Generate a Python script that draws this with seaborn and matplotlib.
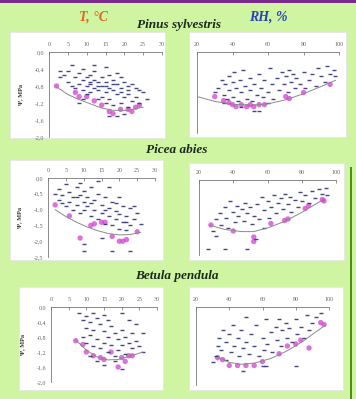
import matplotlib

matplotlib.use("Agg")
import matplotlib.pyplot as plt
import pandas as pd
import seaborn as sns
from matplotlib.patches import Rectangle

# --- data ----------------------------------------------------------------
# Pinus sylvestris, water potential vs temperature
pinus_t_x = [3, 3, 4, 5, 5, 6, 6, 7, 7, 8, 8, 9, 9, 9, 10, 10, 10, 11, 11, 11, 12, 12, 12,
             13, 13, 13, 14, 14, 14, 15, 15, 15, 15, 16, 16, 16, 17, 17, 17, 18, 18, 18,
             19, 19, 19, 20, 20, 20, 21, 21, 21, 22, 22, 23, 23, 24, 24, 25, 8, 16, 12,
             18, 26, 9, 11, 13, 15, 17, 19, 21]
pinus_t_y = [-0.45, -0.6, -0.55, -0.7, -0.45, -0.8, -0.3, -0.6, -0.85, -0.5, -0.75, -0.65,
             -0.9, -0.4, -0.6, -0.8, -1.0, -0.55, -0.75, -0.95, -0.65, -0.85, -0.45, -0.7,
             -0.9, -1.1, -0.6, -0.8, -1.05, -0.35, -0.7, -0.95, -1.2, -0.55, -0.85, -1.1,
             -0.65, -0.9, -1.25, -0.75, -1.0, -1.5, -0.6, -0.85, -1.2, -0.7, -1.05, -1.45,
             -0.8, -1.0, -1.3, -0.75, -1.15, -0.85, -1.05, -0.9, -1.2, -0.95, -1.2, -1.5,
             -0.3, -0.5, -1.1, -1.1, -0.7, -0.8, -0.8, -0.75, -0.95, -0.9]
pinus_t_min_x = [2, 7, 8, 10, 12, 14, 16, 17, 19, 21, 22, 23, 24]
pinus_t_min_y = [-0.8, -0.95, -1.05, -1.05, -1.15, -1.25, -1.4, -1.45, -1.35, -1.35, -1.4,
                 -1.3, -1.25]
pinus_t_fit_x = [2, 5, 8, 11, 14, 17, 20, 23, 25]
pinus_t_fit_y = [-0.82, -1.0, -1.12, -1.22, -1.32, -1.37, -1.38, -1.33, -1.3]

# Pinus sylvestris, water potential vs relative humidity
pinus_rh_x = [30, 32, 34, 35, 36, 37, 38, 38, 40, 40, 41, 42, 43, 44, 45, 46, 47, 48, 50, 50,
              51, 52, 54, 55, 56, 57, 58, 60, 61, 62, 63, 65, 66, 68, 69, 70, 71, 72, 73, 74,
              75, 76, 78, 80, 81, 83, 85, 87, 88, 90, 92, 93, 95, 97, 98, 52, 55, 45, 60, 35]
pinus_rh_y = [-1.0, -0.9, -0.7, -1.05, -0.8, -1.15, -0.6, -0.95, -0.75, -1.1, -0.5, -0.9,
              -1.2, -0.7, -1.0, -0.45, -0.85, -1.15, -0.65, -0.95, -1.2, -0.8, -1.05, -0.55,
              -0.9, -1.1, -0.7, -1.0, -0.4, -0.8, -1.15, -0.65, -0.95, -0.5, -0.8, -0.6,
              -1.0, -0.45, -0.75, -0.55, -0.9, -0.65, -0.8, -0.5, -0.9, -0.7, -0.55, -0.85,
              -0.4, -0.6, -0.75, -0.35, -0.55, -0.45, -0.6, -1.45, -1.45, -1.35, -1.25, -1.25]
pinus_rh_min_x = [30, 35, 38, 40, 42, 45, 48, 50, 52, 55, 58, 70, 72, 80, 95]
pinus_rh_min_y = [-1.1, -1.2, -1.25, -1.3, -1.35, -1.3, -1.35, -1.3, -1.35, -1.3, -1.3,
                  -1.1, -1.15, -1.0, -0.8]
pinus_rh_fit_x = [20, 30, 40, 50, 55, 60, 70, 80, 90, 98]
pinus_rh_fit_y = [-1.1, -1.22, -1.29, -1.31, -1.3, -1.28, -1.18, -1.03, -0.85, -0.7]

# Picea abies, temperature
picea_t_x = [2, 3, 3, 4, 5, 5, 6, 6, 7, 7, 8, 8, 9, 9, 10, 10, 10, 11, 11, 12, 12, 13, 13, 14,
             14, 15, 15, 16, 16, 17, 17, 17, 18, 18, 19, 19, 20, 20, 20, 21, 21, 22, 22, 23,
             23, 24, 25, 26, 10, 10, 18, 23, 15, 24, 9, 14, 4, 8, 12, 16, 19, 22]
picea_t_y = [-0.5, -0.35, -0.7, -0.55, -0.2, -0.9, -0.45, -0.75, -0.6, -1.0, -0.3, -0.85,
             -0.55, -1.1, -0.4, -0.75, -1.0, -0.6, -0.9, -0.3, -1.2, -0.7, -1.0, -0.5, -1.3,
             -0.85, -1.1, -0.6, -1.45, -0.3, -0.95, -1.2, -0.75, -1.5, -1.05, -1.3, -0.6,
             -1.6, -1.15, -0.9, -1.4, -1.2, -1.65, -0.95, -1.5, -1.3, -1.1, -1.45, -2.1,
             -2.3, -2.3, -2.3, -1.9, -0.9, -0.15, -0.1, -0.8, -0.6, -0.8, -1.0, -0.8, -1.4]
picea_t_min_x = [2, 6, 9, 12, 13, 15, 16, 18, 20, 21, 22, 25]
picea_t_min_y = [-0.85, -1.2, -1.9, -1.5, -1.45, -1.4, -1.4, -1.85, -2.0, -2.0, -1.95, -1.7]
picea_t_fit_x = [2, 5, 8, 11, 14, 17, 20, 23, 26]
picea_t_fit_y = [-1.0, -1.22, -1.4, -1.55, -1.67, -1.76, -1.8, -1.79, -1.72]

# Picea abies, relative humidity
picea_rh_x = [28, 30, 32, 33, 35, 36, 37, 38, 40, 41, 42, 43, 45, 46, 47, 48, 50, 51, 52, 54,
              55, 57, 58, 60, 61, 62, 64, 65, 66, 68, 69, 70, 72, 73, 74, 76, 78, 79, 80, 82,
              84, 86, 88, 90, 92, 94, 95, 25, 35, 48, 53, 30, 58]
picea_rh_y = [-1.7, -1.3, -1.1, -1.5, -0.9, -1.25, -1.6, -0.7, -1.05, -1.4, -0.85, -1.2,
              -0.95, -1.35, -0.75, -1.1, -0.9, -1.45, -1.2, -0.8, -1.3, -0.55, -1.0, -0.7,
              -1.25, -0.9, -0.5, -1.1, -0.75, -0.6, -0.95, -0.45, -0.8, -0.55, -1.05, -0.65,
              -0.9, -0.4, -0.7, -0.5, -0.75, -0.35, -0.6, -0.3, -0.45, -0.25, -0.5, -2.3,
              -2.3, -2.3, -1.95, -1.85, -1.6]
picea_rh_min_x = [27, 40, 52, 52, 62, 70, 72, 82, 84, 92, 93]
picea_rh_min_y = [-1.5, -1.7, -2.05, -1.9, -1.45, -1.35, -1.3, -0.95, -0.85, -0.65, -0.7]
picea_rh_fit_x = [26, 35, 45, 52, 60, 70, 80, 92]
picea_rh_fit_y = [-1.5, -1.65, -1.72, -1.72, -1.6, -1.38, -1.08, -0.67]

# Betula pendula, temperature
betula_t_x = [8, 9, 9, 10, 10, 10, 11, 11, 12, 12, 12, 13, 13, 14, 14, 15, 15, 15, 16, 16, 16,
              17, 17, 18, 18, 19, 19, 20, 20, 20, 21, 21, 22, 22, 23, 23, 24, 24, 25, 26, 26,
              13, 15, 20, 11, 18]
betula_t_y = [-0.15, -0.35, -0.8, -0.25, -0.55, -0.95, -0.4, -0.75, -0.15, -0.6, -1.05, -0.3,
              -0.85, -0.45, -1.1, -0.2, -0.65, -0.95, -0.35, -0.8, -1.2, -0.5, -1.0, -0.7,
              -1.3, -0.85, -1.15, -0.15, -0.6, -1.0, -0.8, -1.25, -0.35, -0.95, -0.7, -1.1,
              -0.45, -0.9, -1.05, -0.7, -1.2, -1.45, -1.55, -1.65, -1.3, -1.45]
betula_t_min_x = [7, 9, 10, 12, 14, 15, 17, 19, 20, 21, 22, 23]
betula_t_min_y = [-0.9, -1.0, -1.2, -1.3, -1.35, -1.4, -1.2, -1.6, -1.35, -1.45, -1.3, -1.3]
betula_t_fit_x = [7, 10, 13, 16, 19, 22, 24, 26]
betula_t_fit_y = [-0.88, -1.15, -1.33, -1.41, -1.4, -1.32, -1.26, -1.2]

# Betula pendula, relative humidity
betula_rh_x = [32, 33, 34, 35, 36, 38, 38, 40, 41, 42, 43, 45, 46, 47, 48, 50, 50, 52, 53, 55,
               56, 58, 60, 61, 62, 63, 65, 66, 68, 69, 70, 71, 72, 74, 75, 76, 78, 80, 81, 83,
               85, 87, 88, 90, 92, 95, 80, 60, 62, 48, 30]
betula_rh_y = [-1.25, -1.0, -0.8, -1.1, -0.6, -0.9, -1.35, -0.7, -1.15, -0.45, -1.0, -0.8,
               -1.25, -0.6, -1.05, -0.25, -0.9, -1.2, -0.7, -1.0, -0.45, -1.25, -0.8, -1.1,
               -0.3, -0.95, -0.65, -1.15, -0.5, -0.85, -0.3, -1.0, -0.6, -0.4, -0.8, -0.55,
               -0.9, -0.3, -0.7, -0.5, -0.8, -0.2, -0.6, -0.4, -0.25, -0.15, -1.5, -1.5,
               -1.5, -1.65, -1.4]
betula_rh_min_x = [33, 36, 40, 45, 50, 55, 60, 70, 75, 80, 83, 88, 95, 97]
betula_rh_min_y = [-1.3, -1.35, -1.5, -1.5, -1.5, -1.5, -1.4, -1.2, -1.0, -0.95, -0.85,
                   -1.05, -0.4, -0.45]
betula_rh_fit_x = [33, 40, 47, 55, 65, 75, 85, 92, 98]
betula_rh_fit_y = [-1.28, -1.42, -1.47, -1.44, -1.32, -1.12, -0.86, -0.64, -0.46]

t_ticks = [0, 5, 10, 15, 20, 25, 30]
rh_ticks = [20, 40, 60, 80, 100]
pinus_yticks = [0.0, -0.4, -0.8, -1.2, -1.6, -2.0]
picea_yticks = [0.0, -0.5, -1.0, -1.5, -2.0, -2.5]
betula_yticks = [0.0, -0.4, -0.8, -1.2, -1.6, -2.0]

W, H = 356, 399
BG = "#cff5a3"
DOT = "#2f3274"
MAG = "#d23fd3"
SERIF = ["Liberation Serif", "DejaVu Serif"]


def rect(x0, y0, x1, y1):
    return [x0 / W, 1 - y1 / H, (x1 - x0) / W, (y1 - y0) / H]


def comma(v):
    return f"{v:.1f}".replace(".", ",")


def panel(fig, box, pos, xs, ys, mx, my, fx, fy, xticks, yticks, ylabels):
    x0, y0, x1, y1 = box
    fig.patches.append(Rectangle((x0 / W, 1 - y1 / H), (x1 - x0) / W, (y1 - y0) / H,
                                 transform=fig.transFigure, facecolor="white",
                                 edgecolor="#e6e6e6", lw=0.6, zorder=-5))
    ax = fig.add_axes(rect(*pos))
    ax.set_zorder(2)
    ax.set_facecolor("none")
    pts = pd.DataFrame({"x": xs, "y": ys})
    low = pd.DataFrame({"x": mx, "y": my})
    fit = pd.DataFrame({"x": fx, "y": fy})
    sns.scatterplot(data=low, x="x", y="y", ax=ax, s=15, color=MAG, edgecolor="none",
                    alpha=0.75, zorder=2)
    sns.scatterplot(data=pts, x="x", y="y", ax=ax, marker="_", s=6, color=DOT,
                    linewidth=1.0, alpha=0.9, zorder=3)
    sns.lineplot(data=fit, x="x", y="y", ax=ax, color="#8a8a8a", lw=0.7, zorder=4)
    ax.set_xlim(xticks[0], xticks[-1])
    ax.set_ylim(yticks[-1], 0)
    ax.xaxis.tick_top()
    ax.set_xticks(xticks)
    ax.set_xticklabels([str(t) for t in xticks], fontfamily=SERIF)
    ax.set_yticks(yticks)
    if ylabels:
        ax.set_yticklabels([comma(v) for v in yticks], fontfamily=SERIF)
        ax.set_ylabel("Ψ, MPa", fontsize=4.5, fontweight="bold", fontfamily=SERIF,
                      labelpad=8, color="#333333")
    else:
        ax.set_yticklabels([])
        ax.set_ylabel("")
    ax.set_xlabel("")
    ax.tick_params(direction="in", length=1.8, width=0.5, labelsize=4.3,
                   colors="#666666", pad=3.5)
    for side in ("right", "bottom"):
        ax.spines[side].set_visible(False)
    for side in ("left", "top"):
        ax.spines[side].set_visible(True)
        ax.spines[side].set_color("#777777")
        ax.spines[side].set_linewidth(0.6)
    return ax


def main() -> None:
    sns.set_style("white")
    fig = plt.figure(figsize=(W / 100, H / 100), dpi=100)
    fig.patch.set_facecolor(BG)

    fig.patches.append(Rectangle((0, 1 - 2.5 / H), 1, 2.5 / H, transform=fig.transFigure,
                                 facecolor="#7d2a8e", edgecolor="none", zorder=-5))
    fig.patches.append(Rectangle((349.5 / W, 0), 2 / W, (H - 167) / H,
                                 transform=fig.transFigure, facecolor="#4f8d12",
                                 edgecolor="none", zorder=-5))

    panel(fig, (10, 32, 165, 138), (49, 52, 162, 137), pinus_t_x, pinus_t_y,
          pinus_t_min_x, pinus_t_min_y, pinus_t_fit_x, pinus_t_fit_y,
          t_ticks, pinus_yticks, True)
    panel(fig, (189, 32, 346, 137), (197, 52, 339, 133), pinus_rh_x, pinus_rh_y,
          pinus_rh_min_x, pinus_rh_min_y, pinus_rh_fit_x, pinus_rh_fit_y,
          rh_ticks, pinus_yticks, False)
    panel(fig, (10, 160, 163, 260), (48, 178, 155, 257), picea_t_x, picea_t_y,
          picea_t_min_x, picea_t_min_y, picea_t_fit_x, picea_t_fit_y,
          t_ticks, picea_yticks, True)
    panel(fig, (189, 163, 344, 260), (199, 180, 336, 255), picea_rh_x, picea_rh_y,
          picea_rh_min_x, picea_rh_min_y, picea_rh_fit_x, picea_rh_fit_y,
          rh_ticks, picea_yticks, False)
    panel(fig, (19, 287, 163, 390), (51, 307, 157, 382), betula_t_x, betula_t_y,
          betula_t_min_x, betula_t_min_y, betula_t_fit_x, betula_t_fit_y,
          t_ticks, betula_yticks, True)
    panel(fig, (189, 287, 343, 390), (196, 307, 329, 385), betula_rh_x, betula_rh_y,
          betula_rh_min_x, betula_rh_min_y, betula_rh_fit_x, betula_rh_fit_y,
          rh_ticks, betula_yticks, False)

    style = dict(fontfamily=SERIF, fontweight="bold", fontstyle="italic",
                 ha="center", va="center")
    fig.text(93 / W, 1 - 17 / H, "T, °C", color="#e0661a", fontsize=10, **style)
    fig.text(268 / W, 1 - 17 / H, "RH, %", color="#2a40b8", fontsize=10, **style)
    fig.text(179 / W, 1 - 25 / H, "Pinus sylvestris", color="#1c2a1c", fontsize=9.5,
             **style)
    fig.text(177 / W, 1 - 150 / H, "Picea abies", color="#1c2a1c", fontsize=9.5, **style)
    fig.text(177 / W, 1 - 276 / H, "Betula pendula", color="#1c2a1c", fontsize=9.5,
             **style)

    fig.savefig("out.png", dpi=100, facecolor=BG)


if __name__ == "__main__":
    main()
